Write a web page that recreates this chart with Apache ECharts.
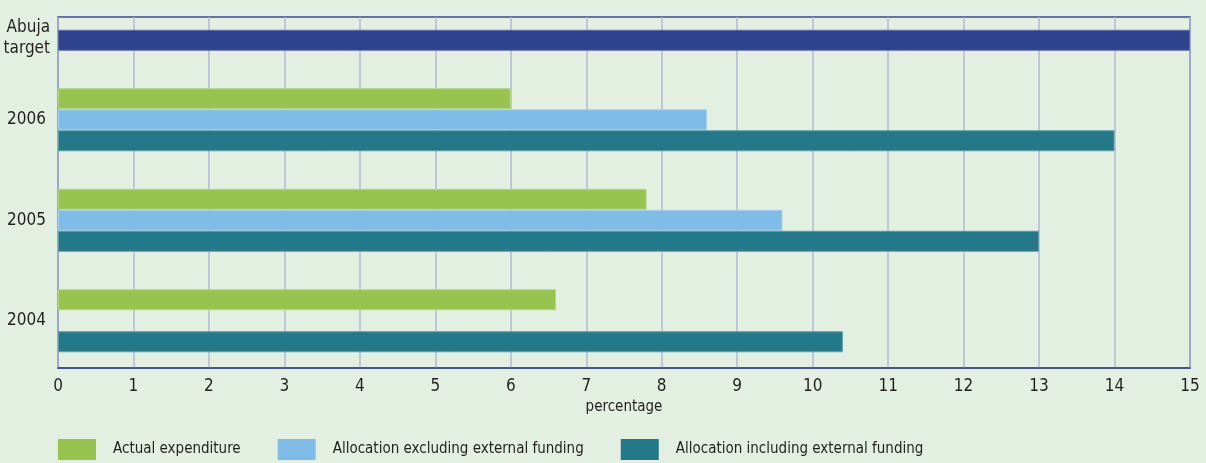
<!DOCTYPE html>
<html>
<head>
<meta charset="utf-8">
<script src="https://cdn.jsdelivr.net/npm/echarts@6/dist/echarts.min.js"></script>
<style>
  html, body { margin: 0; padding: 0; background: #e3efe1; }
  #chart { width: 1206px; height: 463px; }
</style>
</head>
<body>
<div id="chart"></div>
<script>
// Health spending as a share of the budget, by year (bottom to top)
const categories = ['2004', '2005', '2006', 'Abuja target'];
const actualExpenditure = [6.6, 7.8, 6.0, '-'];
const allocationExclExternal = ['-', 9.6, 8.6, '-'];
const allocationInclExternal = [10.4, 13.0, 14.0, '-'];
const abujaTarget = ['-', '-', '-', 15];
const xTicks = { min: 0, max: 15, interval: 1 };

const FONT = "'DejaVu Sans Condensed', 'DejaVu Sans', sans-serif";
const TEXT = '#231f20';

const chart = echarts.init(document.getElementById('chart'));

function barStyle(color, border) {
  return { color: color, borderColor: border, borderWidth: 1 };
}

chart.setOption({
  backgroundColor: '#e3efe1',
  animation: false,
  textStyle: { fontFamily: FONT, color: TEXT },
  grid: [
    // bar area: category bands are 100.5px tall, reaching above the frame
    { left: 58, right: 16, top: -31, height: 402, show: false,
      containLabel: false, outerBoundsMode: 'none' },
    // framed plot with vertical gridlines
    { left: 58, right: 16, top: 17, bottom: 95, show: true,
      containLabel: false, outerBoundsMode: 'none',
      borderColor: '#3b4a9b', borderWidth: 1.5, backgroundColor: 'transparent', z: 0 }
  ],
  xAxis: [
    { gridIndex: 0, type: 'value', min: xTicks.min, max: xTicks.max, interval: xTicks.interval, show: false },
    { gridIndex: 1, type: 'value', min: xTicks.min, max: xTicks.max, interval: xTicks.interval,
      axisLine: { show: true, lineStyle: { color: '#3b4a9b', width: 1.5 } },
      axisTick: { show: false },
      splitLine: { show: true, lineStyle: { color: '#b4b7d5', width: 1.5 } },
      axisLabel: { fontFamily: FONT, fontSize: 17, color: TEXT, margin: 10 },
      name: 'percentage', nameLocation: 'middle', nameGap: 32,
      nameTextStyle: { fontFamily: FONT, fontSize: 15, color: TEXT } }
  ],
  yAxis: [
    { gridIndex: 0, type: 'category', data: categories,
      axisLine: { show: false }, axisTick: { show: false }, splitLine: { show: false },
      axisLabel: {
        fontFamily: FONT, fontSize: 17, color: TEXT, margin: 8,
        formatter: function (v) {
          if (v === 'Abuja target') return '{sp| }\n{ab|Abuja}\n{ab|target}';
          return '{yr|' + v + '}';
        },
        rich: {
          sp: { lineHeight: 38, fontSize: 10 },
          ab: { fontFamily: FONT, fontSize: 17, color: TEXT, lineHeight: 21, align: 'right' },
          yr: { fontFamily: FONT, fontSize: 17, color: TEXT, padding: [0, 4, 0, 0] }
        }
      } },
    { gridIndex: 1, type: 'value', show: false }
  ],
  legend: {
    data: ['Actual expenditure', 'Allocation excluding external funding', 'Allocation including external funding'],
    left: 58, top: 439, padding: 0, itemWidth: 38, itemHeight: 21, itemGap: 37,
    icon: 'rect',
    itemStyle: { borderWidth: 0 },
    textStyle: { fontFamily: FONT, fontSize: 15, color: TEXT, padding: [6, 0, 0, 12] }
  },
  series: [
    { name: 'Actual expenditure', type: 'bar', xAxisIndex: 0, yAxisIndex: 0,
      data: actualExpenditure, barWidth: 21, barGap: '0%',
      itemStyle: barStyle('#97c34f', '#b5d68a') },
    { name: 'Allocation excluding external funding', type: 'bar', xAxisIndex: 0, yAxisIndex: 0,
      data: allocationExclExternal, barWidth: 21, barGap: '0%',
      itemStyle: barStyle('#80bce8', '#a6d0ef') },
    { name: 'Allocation including external funding', type: 'bar', xAxisIndex: 0, yAxisIndex: 0,
      data: allocationInclExternal, barWidth: 21, barGap: '0%', stack: 'inc',
      itemStyle: barStyle('#23798a', '#5c9ba7') },
    { name: 'Abuja target', type: 'bar', xAxisIndex: 0, yAxisIndex: 0,
      data: abujaTarget, barWidth: 21, barGap: '0%', stack: 'inc',
      itemStyle: barStyle('#2f428e', '#5f6ea8') }
  ]
});
</script>
</body>
</html>
